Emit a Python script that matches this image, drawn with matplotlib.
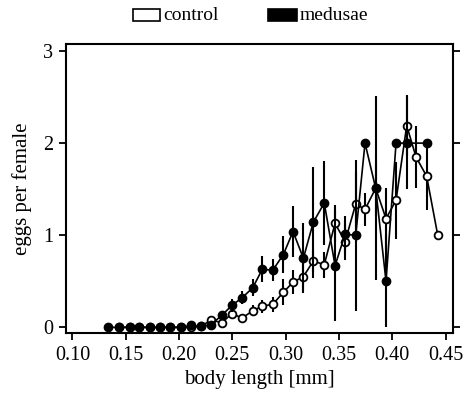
import matplotlib
matplotlib.use("Agg")
import matplotlib.pyplot as plt
from matplotlib.patches import Rectangle
import numpy as np

plt.rcParams['font.family'] = ['Liberation Serif', 'DejaVu Serif']

# bin centres (body length, mm)
x_all = [0.1338, 0.1438, 0.1538, 0.1628, 0.1728, 0.1819, 0.1919, 0.2016, 0.2110,
         0.2207, 0.2300, 0.2401, 0.2497, 0.2591, 0.2691, 0.2781, 0.2879, 0.2978,
         0.3069, 0.3166, 0.3259, 0.3362, 0.3463, 0.3557, 0.3657, 0.3744, 0.3844,
         0.3941, 0.4035, 0.4135, 0.4222, 0.4322, 0.4426]

# control (open circles): bins 1..32
ctrl_x = x_all[1:33]
ctrl_y = [0.0, 0.0, 0.0, 0.0, 0.0, 0.0, 0.0, 0.0, 0.01, 0.08, 0.05, 0.15, 0.10,
          0.18, 0.23, 0.25, 0.38, 0.49, 0.55, 0.72, 0.68, 1.13, 0.93, 1.34, 1.28,
          1.51, 1.18, 1.38, 2.19, 1.85, 1.64, 1.00]
ctrl_e = [0, 0, 0, 0, 0, 0, 0, 0, 0.01, 0.03, 0.03, 0.05, 0.05,
          0.06, 0.07, 0.08, 0.14, 0.13, 0.15, 0.12, 0.14, 0.20, 0.20, 0.35, 0.18,
          0.30, 0.33, 0.42, 0.33, 0.34, 0.37, 0.0]

# medusae (filled circles): bins 0..31, no value in bin 30
med_x = x_all[0:30] + [x_all[31]]
med_y = [0.0, 0.0, 0.0, 0.0, 0.0, 0.0, 0.0, 0.0, 0.02, 0.01, 0.03, 0.13, 0.24,
         0.32, 0.43, 0.63, 0.62, 0.79, 1.04, 0.75, 1.14, 1.35, 0.67, 1.01, 1.00,
         2.00, 1.51, 0.50, 2.00, 2.00, 2.00]
med_e = [0, 0, 0, 0, 0, 0, 0, 0, 0.02, 0.02, 0.03, 0.05, 0.07,
         0.07, 0.09, 0.14, 0.12, 0.20, 0.28, 0.38, 0.60, 0.46, 0.60, 0.20, 0.82,
         0.0, 1.00, 0.50, 0.0, 0.50, 0.0]

xticks = [0.10, 0.15, 0.20, 0.25, 0.30, 0.35, 0.40, 0.45]
yticks = [0, 1, 2, 3]

fig = plt.figure(figsize=(4.69, 4.0), dpi=100)
ax = fig.add_axes([0.1407, 0.1667, 0.8245, 0.7233])

ax.errorbar(ctrl_x, ctrl_y, yerr=ctrl_e, fmt='-o', color='black', ecolor='black',
            elinewidth=1.5, capsize=0, lw=1.2, ms=5.6, mfc='white', mec='black',
            mew=1.3, zorder=2)
ax.errorbar(med_x, med_y, yerr=med_e, fmt='-o', color='black', ecolor='black',
            elinewidth=1.5, capsize=0, lw=1.2, ms=6.0, mfc='black', mec='black',
            mew=1.0, zorder=3)

ax.set_xlim(0.094, 0.4566)
ax.set_ylim(-0.065, 3.076)
ax.set_xticks(xticks)
ax.set_xticklabels([f"{t:.2f}" for t in xticks])
ax.set_yticks(yticks)
ax.tick_params(axis='both', direction='out', length=5, width=1.3, labelsize=14.5,
               right=True, top=False, labelright=False, pad=4)
for s in ax.spines.values():
    s.set_linewidth(1.5)

ax.set_xlabel('body length [mm]', fontsize=15, labelpad=4)
ax.set_ylabel('eggs per female', fontsize=15, labelpad=8)

# legend at top
fig.patches.append(Rectangle((133/469, 1 - 21/400), 27/469, 12/400, transform=fig.transFigure,
                             facecolor='white', edgecolor='black', lw=1.2))
fig.text(163/469, 1 - 15/400, 'control', fontsize=14, va='center', ha='left')
fig.patches.append(Rectangle((268/469, 1 - 21/400), 29/469, 12/400, transform=fig.transFigure,
                             facecolor='black', edgecolor='black', lw=1.2))
fig.text(300/469, 1 - 15/400, 'medusae', fontsize=14, va='center', ha='left')

fig.savefig('out.png', dpi=100)
